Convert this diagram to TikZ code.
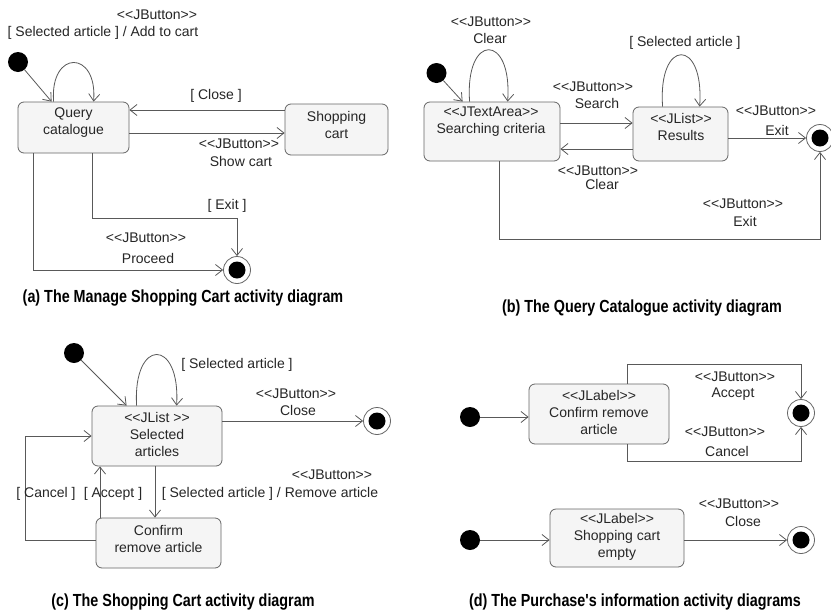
\documentclass[tikz,border=0pt]{standalone}
\usepackage{fontspec}
\setmainfont{Liberation Sans}[Ligatures=TeXOff]
\newfontfamily\capfont{Liberation Sans}[Ligatures=TeXOff,FakeStretch=0.82]
\usetikzlibrary{arrows.meta,calc}
\begin{document}
\begin{tikzpicture}[x=1pt,y=-1pt,
  every node/.style={font=\fontsize{14}{17}\selectfont, text=black!85, inner sep=0pt},
  box/.style={draw=black!60, fill=black!4, rounded corners=6pt, line width=0.8pt},
  boxtxt/.style={align=center},
  ini/.style={circle, fill=black, minimum size=20pt},
  fin/.style={circle, draw=black!60, fill=white, line width=0.8pt, minimum size=27pt,
    path picture={\fill[black] (path picture bounding box.center) circle (8.5pt);}},
  arr/.style={draw=black!65, line width=0.8pt, -{Straight Barb[length=7pt,width=11pt]}},
  captxt/.style={font=\capfont\bfseries\fontsize{17.5}{20}\selectfont, text=black}
]
\fill[white] (0,0) rectangle (831,611);
\useasboundingbox (0,0) rectangle (831,611);

% ---------------- (a)
\node[ini] (ia) at (18,62) {};
\node[box, minimum width=111pt, minimum height=51pt] (qc) at (73.5,127.5) {};
\node[boxtxt] (qct) at (73.5,122.5) {Query\\catalogue};
\node[box, minimum width=103pt, minimum height=51pt] (sc) at (336.5,129.5) {};
\node[boxtxt] (sct) at (336.5,124.5) {Shopping\\cart};
\node[fin] (fa) at (237,270) {};

\draw[arr] (ia) -- ([xshift=34pt]qc.north west);
\draw[arr] ([xshift=36pt]qc.north west) .. controls +(-4,-52) and +(4,-52) .. ([xshift=76pt]qc.north west);
\draw[arr] (sc.west |- 0,110) -- (qc.east |- 0,110);
\draw[arr] (qc.east |- 0,133) -- (sc.west |- 0,133);
\draw[arr] (qc.south -| 92,0) |- (fa.north |- 0,218) -- (fa.north);
\draw[arr] (qc.south -| 33,0) |- (fa.west);

\node (a1) at (157,15) {<<JButton>>};
\node (a2) at (103,33) {[ Selected article ] / Add to cart};
\node (a3) at (216,96) {[ Close ]};
\node (a4) at (239,144) {<<JButton>>};
\node (a5) at (241,161) {Show cart};
\node (a6) at (227,206) {[ Exit ]};
\node (a7) at (146,238) {<<JButton>>};
\node (a8) at (148,258) {Proceed};
\node[captxt] (capa) at (183,298) {(a) The Manage Shopping Cart activity diagram};

% ---------------- (b)
\node[ini] (ib) at (436.5,73) {};
\node[box, minimum width=136pt, minimum height=59pt] (st) at (492,131.5) {};
\node[boxtxt] (stt) at (491,121.5) {<<JTextArea>>\\Searching criteria};
\node[box, minimum width=95pt, minimum height=54pt] (rs) at (680.5,134) {};
\node[boxtxt] (rst) at (681,127) {<<JList>>\\Results};
\node[fin] (fb) at (820,138) {};

\draw[arr] (ib) -- ([xshift=39pt]st.north west);
\draw[arr] ([xshift=46pt]st.north west) .. controls +(-5,-69) and +(5,-69) .. ([xshift=84pt]st.north west);
\draw[arr] ([xshift=30pt]rs.north west) .. controls +(-5,-69) and +(5,-69) .. ([xshift=67pt]rs.north west);
\draw[arr] (st.east |- 0,123) -- (rs.west |- 0,123);
\draw[arr] (rs.west |- 0,149) -- (st.east |- 0,149);
\draw[arr] (rs.east |- fb.west) -- (fb.west);
\draw[arr] (st.south -| 499,0) |- (fb.south |- 0,239) -- (fb.south);

\node (b1) at (491,22) {<<JButton>>};
\node (b2) at (490,38) {Clear};
\node (b3) at (685,43) {[ Selected article ]};
\node (b4) at (593,87) {<<JButton>>};
\node (b5) at (597,103) {Search};
\node (b6) at (598,171) {<<JButton>>};
\node (b7) at (602,184) {Clear};
\node (b8) at (776,111) {<<JButton>>};
\node (b9) at (777,130) {Exit};
\node (b10) at (743,204) {<<JButton>>};
\node (b11) at (745,221) {Exit};
\node[captxt] (capb) at (642,308) {(b) The Query Catalogue activity diagram};

% ---------------- (c)
\node[ini] (ic) at (74,353) {};
\node[box, minimum width=130pt, minimum height=60pt] (sa) at (157,436) {};
\node[boxtxt] (sat) at (157,434.5) {<<JList >>\\Selected\\articles};
\node[box, minimum width=125pt, minimum height=50pt] (cr) at (158.5,543) {};
\node[boxtxt] (crt) at (158.5,539) {Confirm\\remove article};
\node[fin] (fc) at (377,421) {};

\draw[arr] (ic) -- ([xshift=35pt]sa.north west);
\draw[arr] ([xshift=45pt]sa.north west) .. controls +(-4,-68) and +(4,-68) .. ([xshift=85pt]sa.north west);
\draw[arr] (sa.east |- fc.west) -- (fc.west);
\draw[arr] (sa.south -| 155,0) -- (cr.north -| 155,0);
\draw[arr] (cr.north -| 100,0) -- (sa.south -| 100,0);
\draw[arr] (cr.west |- 0,540) -- (25,540) |- (sa.west |- 0,436);

\node (c1) at (237,365) {[ Selected article ]};
\node (c2) at (296,394) {<<JButton>>};
\node (c3) at (298,410) {Close};
\node (c4) at (332,475) {<<JButton>>};
\node (c5) at (270,494) {[ Selected article ] / Remove article};
\node (c6) at (46,494) {[ Cancel ]};
\node (c7) at (113,494) {[ Accept ]};
\node[captxt] (capc) at (183,602) {(c) The Shopping Cart activity diagram};

% ---------------- (d)
\node[ini] (id1) at (470,417) {};
\node[box, minimum width=140pt, minimum height=60pt] (cl) at (599,414) {};
\node[boxtxt] (clt) at (599,412) {<<JLabel>>\\Confirm remove\\article};
\node[fin] (fd1) at (801,413) {};
\draw[arr] (id1) -- (id1 -| cl.west);
\draw[arr] (cl.north -| 627,0) |- (fd1.north |- 0,364) -- (fd1.north);
\draw[arr] (cl.south -| 627,0) |- (fd1.south |- 0,461) -- (fd1.south);
\node (d1) at (735,377) {<<JButton>>};
\node (d2) at (733,394) {Accept};
\node (d3) at (725,432) {<<JButton>>};
\node (d4) at (727,451) {Cancel};

\node[ini] (id2) at (470,540) {};
\node[box, minimum width=134pt, minimum height=58pt] (se) at (617,538) {};
\node[boxtxt] (set) at (617,537) {<<JLabel>>\\Shopping cart\\empty};
\node[fin] (fd2) at (801,540) {};
\draw[arr] (id2) -- (id2 -| se.west);
\draw[arr] (se.east |- fd2.west) -- (fd2.west);
\node (d5) at (739,504) {<<JButton>>};
\node (d6) at (743,521) {Close};
\node[captxt] (capd) at (635,602) {(d) The Purchase's information activity diagrams};
\end{tikzpicture}
\end{document}
